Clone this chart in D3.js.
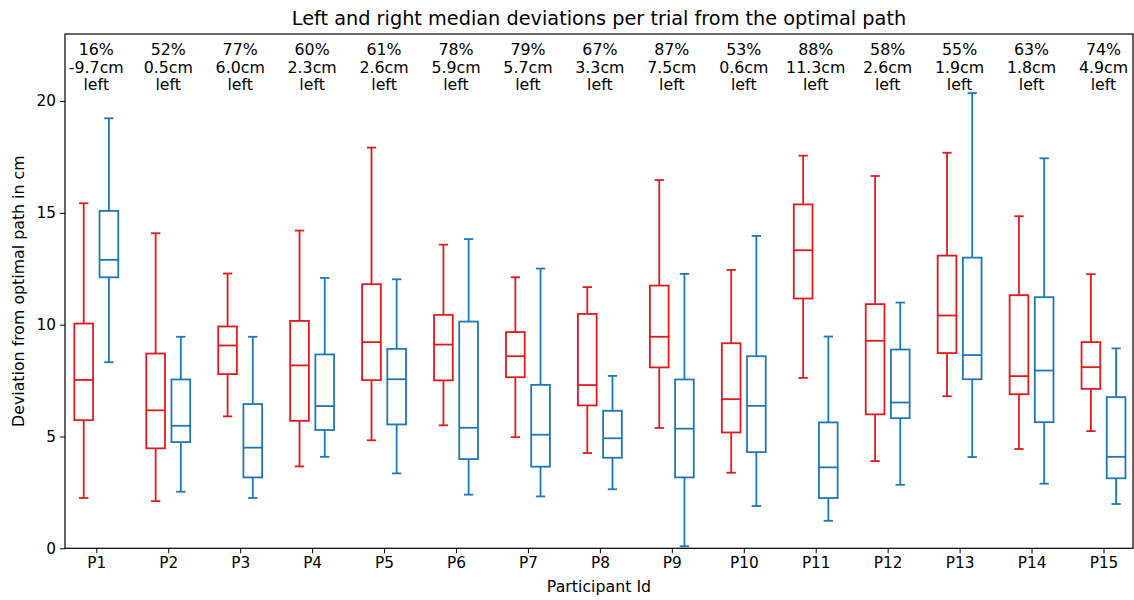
<!DOCTYPE html>
<html>
<head>
<meta charset="utf-8">
<script src="https://cdn.jsdelivr.net/npm/d3@7"></script>
<style>
  body { margin: 0; background: #fff; }
  text { font-family: "DejaVu Sans", sans-serif; fill: #000; }
</style>
</head>
<body>
<div id="container"></div>
<script>
// participants and annotation values
const participants = ["P1","P2","P3","P4","P5","P6","P7","P8","P9","P10","P11","P12","P13","P14","P15"];
const pctLeft = [16, 52, 77, 60, 61, 78, 79, 67, 87, 53, 88, 58, 55, 63, 74];
const diffCm = [-9.7, 0.5, 6.0, 2.3, 2.6, 5.9, 5.7, 3.3, 7.5, 0.6, 11.3, 2.6, 1.9, 1.8, 4.9];

// box stats: [lowWhisker, q1, median, q3, highWhisker]
const leftBoxes = [
  [2.25, 5.73, 7.53, 10.05, 15.43],
  [2.11, 4.47, 6.17, 8.71, 14.09],
  [5.90, 7.79, 9.07, 9.92, 12.29],
  [3.66, 5.70, 8.18, 10.17, 14.21],
  [4.83, 7.52, 9.22, 11.81, 17.92],
  [5.50, 7.51, 9.11, 10.44, 13.58],
  [4.97, 7.65, 8.59, 9.67, 12.12],
  [4.26, 6.39, 7.30, 10.48, 11.68],
  [5.38, 8.09, 9.46, 11.75, 16.47],
  [3.38, 5.18, 6.67, 9.17, 12.45],
  [7.62, 11.17, 13.33, 15.38, 17.56],
  [3.90, 5.99, 9.28, 10.92, 16.65],
  [6.80, 8.73, 10.41, 13.09, 17.69],
  [4.44, 6.89, 7.70, 11.32, 14.85],
  [5.24, 7.13, 8.10, 9.22, 12.26]
];
const rightBoxes = [
  [8.32, 12.12, 12.90, 15.09, 19.23],
  [2.53, 4.75, 5.48, 7.55, 9.46],
  [2.25, 3.17, 4.50, 6.45, 9.46],
  [4.09, 5.29, 6.36, 8.67, 12.09],
  [3.35, 5.54, 7.56, 8.92, 12.03],
  [2.40, 3.99, 5.39, 10.14, 13.83],
  [2.32, 3.65, 5.08, 7.31, 12.51],
  [2.64, 4.05, 4.92, 6.15, 7.71],
  [0.09, 3.17, 5.35, 7.55, 12.27],
  [1.89, 4.30, 6.37, 8.59, 13.97],
  [1.23, 2.25, 3.62, 5.63, 9.47],
  [2.84, 5.82, 6.52, 8.89, 10.99],
  [4.08, 7.56, 8.64, 13.00, 20.36],
  [2.89, 5.64, 7.95, 11.23, 17.44],
  [1.98, 3.13, 4.09, 6.76, 8.94]
];
const yTicks = [0, 5, 10, 15, 20];

const W = 1134, H = 600;
const plotLeft = 65, plotRight = 1133, plotTop = 34, plotBottom = 548.3;
const red = "#e31a1c", blue = "#1f77b4";

const svg = d3.select("#container").append("svg")
  .attr("width", W).attr("height", H);

const x = d3.scaleLinear().domain([0.565, 15.41]).range([plotLeft, plotRight]);
const y = d3.scaleLinear().domain([0, 23]).range([plotBottom, plotTop]);

const offset = 0.175, boxW = 0.26;

function drawBoxes(data, color, dx) {
  const g = svg.append("g")
    .attr("stroke", color).attr("stroke-width", 1.8).attr("fill", "none");
  data.forEach((d, i) => {
    const c = x(i + 1 + dx);
    const hw = (x(boxW) - x(0)) / 2;
    const cw = hw / 2;
    g.append("line").attr("x1", c).attr("x2", c).attr("y1", y(d[0])).attr("y2", y(d[1]));
    g.append("line").attr("x1", c).attr("x2", c).attr("y1", y(d[3])).attr("y2", y(d[4]));
    g.append("line").attr("x1", c - cw).attr("x2", c + cw).attr("y1", y(d[0])).attr("y2", y(d[0]));
    g.append("line").attr("x1", c - cw).attr("x2", c + cw).attr("y1", y(d[4])).attr("y2", y(d[4]));
    g.append("rect").attr("x", c - hw).attr("width", 2 * hw)
      .attr("y", y(d[3])).attr("height", y(d[1]) - y(d[3]));
    g.append("line").attr("x1", c - hw).attr("x2", c + hw).attr("y1", y(d[2])).attr("y2", y(d[2]));
  });
}

drawBoxes(leftBoxes, red, -offset);
drawBoxes(rightBoxes, blue, offset);

// axes
const xAxis = d3.axisBottom(x)
  .tickValues(participants.map((p, i) => i + 1))
  .tickFormat((d, i) => participants[i]).tickSizeInner(5).tickSizeOuter(0).tickPadding(4);
const yAxis = d3.axisLeft(y).tickValues(yTicks).tickSizeInner(5).tickSizeOuter(0).tickPadding(4);

const gx = svg.append("g").attr("transform", "translate(0," + plotBottom + ")").call(xAxis);
const gy = svg.append("g").attr("transform", "translate(" + plotLeft + ",0)").call(yAxis);
[gx, gy].forEach(g => {
  g.select(".domain").remove();
  g.selectAll("line").attr("stroke", "#000").attr("stroke-width", 1);
  g.selectAll("text").style("font-size", "15.3px").attr("fill", "#000");
});

// frame
svg.append("rect").attr("x", plotLeft).attr("y", plotTop)
  .attr("width", plotRight - plotLeft).attr("height", plotBottom - plotTop)
  .attr("fill", "none").attr("stroke", "#000").attr("stroke-width", 1.2);

// annotations
const ann = svg.append("g").attr("text-anchor", "middle").style("font-size", "15.8px");
participants.forEach((p, i) => {
  const t = ann.append("text").attr("x", x(i + 1)).attr("y", 55);
  [pctLeft[i] + "%", diffCm[i].toFixed(1) + "cm", "left"].forEach((s, k) => {
    t.append("tspan").attr("x", x(i + 1)).attr("dy", k === 0 ? 0 : 17.6).text(s);
  });
});

// title and labels
svg.append("text").attr("x", (plotLeft + plotRight) / 2).attr("y", 25)
  .attr("text-anchor", "middle").style("font-size", "19.3px")
  .text("Left and right median deviations per trial from the optimal path");
svg.append("text").attr("x", (plotLeft + plotRight) / 2).attr("y", 592)
  .attr("text-anchor", "middle").style("font-size", "15.8px")
  .text("Participant Id");
svg.append("text").attr("transform", "translate(24," + ((plotTop + plotBottom) / 2) + ") rotate(-90)")
  .attr("text-anchor", "middle").style("font-size", "15.8px")
  .text("Deviation from optimal path in cm");
</script>
</body>
</html>
